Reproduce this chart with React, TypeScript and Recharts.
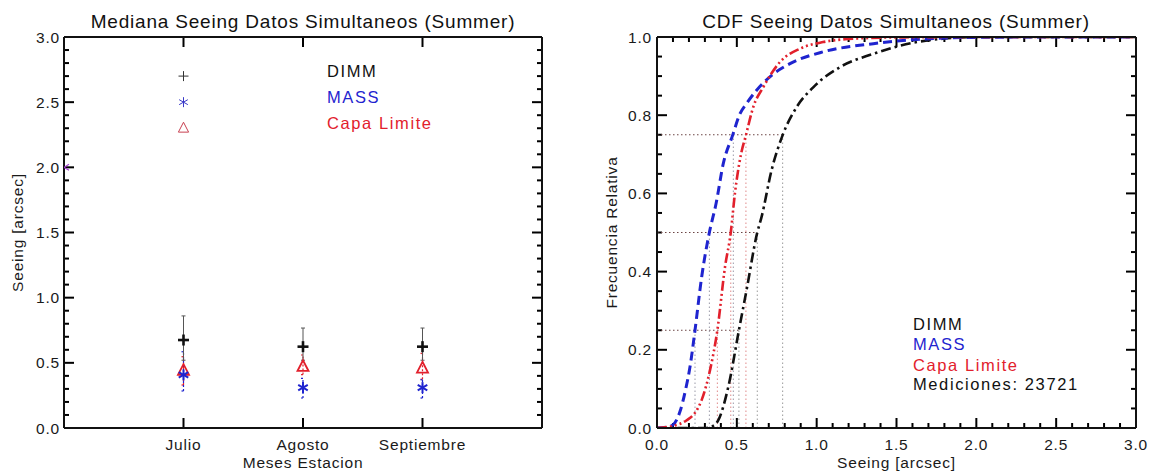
'use client'
import { ComposedChart, Scatter, ErrorBar, Line, XAxis, YAxis, ReferenceLine, Label } from 'recharts'

const FONT = '"Liberation Sans", Arial, Helvetica, sans-serif'
const INK = '#111111'
const BLUE = '#1f24cf'
const RED = '#e2202c'

// --- left panel: monthly medians with quartile bars
const months = ['Julio', 'Agosto', 'Septiembre']
const monthPos = [1, 2, 3]
const dimmMed = [0.675, 0.624, 0.624]
const dimmLo = [0.52, 0.52, 0.52]
const dimmHi = [0.86, 0.767, 0.767]
const massMed = [0.407, 0.31, 0.31]
const massLo = [0.284, 0.23, 0.23]
const massHi = [0.585, 0.38, 0.37]
const capaMed = [0.44, 0.47, 0.458]
const capaLo = [0.33, 0.41, 0.374]
const capaHi = [0.547, 0.56, 0.573]
// the key symbols sit in data space in the original plot
const keyX = [1]
const keyDimm = [2.7]
const keyMass = [2.5]
const keyCapa = [2.3]
const strayX = [0]
const strayY = [2.0]
const seeingLabels = ['0.0', '0.5', '1.0', '1.5', '2.0', '2.5', '3.0']

// --- right panel: cumulative distributions
const dimmSeeing = [0, 0.3, 0.35, 0.384, 0.447, 0.513, 0.561, 0.628, 0.655, 0.718, 0.787, 0.875, 0.98, 1.146, 1.355, 1.6, 1.8, 2.0, 3.0]
const dimmCdf = [0, 0, 0.005, 0.02, 0.106, 0.25, 0.353, 0.5, 0.54, 0.66, 0.749, 0.821, 0.872, 0.923, 0.957, 0.985, 0.996, 1, 1]
const massSeeing = [0, 0.06, 0.1, 0.144, 0.18, 0.207, 0.238, 0.28, 0.328, 0.37, 0.415, 0.474, 0.52, 0.561, 0.624, 0.718, 0.833, 1.04, 1.355, 1.6, 2.0, 2.5, 3.0]
const massCdf = [0, 0.002, 0.008, 0.042, 0.1, 0.157, 0.25, 0.387, 0.5, 0.574, 0.676, 0.749, 0.804, 0.83, 0.864, 0.902, 0.932, 0.962, 0.983, 0.993, 0.999, 1, 1]
const capaSeeing = [0, 0.1, 0.186, 0.24, 0.28, 0.332, 0.378, 0.426, 0.462, 0.488, 0.526, 0.557, 0.603, 0.666, 0.77, 0.895, 1.04, 1.25, 1.5, 2.0, 3.0]
const capaCdf = [0, 0.005, 0.02, 0.04, 0.072, 0.148, 0.25, 0.412, 0.5, 0.6, 0.7, 0.749, 0.821, 0.872, 0.936, 0.97, 0.987, 0.996, 0.999, 1, 1]
const quartLevels = [0.25, 0.5, 0.75]
const dimmQ = [0.513, 0.628, 0.787]
const massQ = [0.238, 0.328, 0.478]
const capaQ = [0.378, 0.462, 0.557]
const cdfYLabels = ['0.0', '0.2', '0.4', '0.6', '0.8', '1.0']
const cdfXLabels = ['0.0', '0.5', '1.0', '1.5', '2.0', '2.5', '3.0']
const mediciones = 23721

const steps = (max: number, step: number) =>
  Array.from({ length: Math.round(max / step) + 1 }, (_, i) => +(i * step).toFixed(3))
const isMajor = (v: number, step: number) => Math.abs(v / step - Math.round(v / step)) < 1e-6

const medRows = (med: number[], lo: number[], hi: number[]) =>
  monthPos.map((x, i) => ({ x, y: med[i], err: [med[i] - lo[i], hi[i] - med[i]] }))
const pts = (xs: number[], ys: number[]) => xs.map((x, i) => ({ x, y: ys[i] }))
const cdfRows = (xs: number[], fs: number[]) => xs.map((v, i) => ({ v, f: fs[i] }))

const tickText = { fill: '#1a1a1a', fontSize: 15.5, fontFamily: FONT, letterSpacing: 0.8 }

function leftLabel(step: number, labels: string[]) {
  return (p: any) => {
    const v = Number(p.payload.value)
    if (!isMajor(v, step)) return <g />
    return <text x={p.x} y={Number(p.y) + 5.5} textAnchor="end" {...tickText}>{labels[Math.round(v / step)]}</text>
  }
}
function bottomLabel(labelOf: (v: number) => string | undefined) {
  return (p: any) => {
    const s = labelOf(Number(p.payload.value))
    if (!s) return <g />
    return <text x={p.x} y={Number(p.y) + 21.5} textAnchor="middle" {...tickText}>{s}</text>
  }
}

// IDL look: ticks on all four sides pointing into the plot, minor ones shorter.
// Drawn as short reference segments; lengths are given in pixels and turned
// into data units with the fixed plot size.
const MINOR = 5
const MAJOR = 10
type Box = { x: [number, number]; y: [number, number]; w: number; h: number }
function frameTicks(box: Box, xTicks: number[], xStep: number, yTicks: number[], yStep: number) {
  const ux = (box.x[1] - box.x[0]) / box.w
  const uy = (box.y[1] - box.y[0]) / box.h
  const st = { stroke: '#000', strokeWidth: 2, ifOverflow: 'visible' as const }
  const out: any[] = []
  yTicks.forEach((v) => {
    const len = (isMajor(v, yStep) ? MAJOR : MINOR) * ux
    out.push(<ReferenceLine key={'yl' + v} segment={[{ x: box.x[0], y: v }, { x: box.x[0] + len, y: v }]} {...st} />)
    out.push(<ReferenceLine key={'yr' + v} segment={[{ x: box.x[1] - len, y: v }, { x: box.x[1], y: v }]} {...st} />)
  })
  xTicks.forEach((v) => {
    const len = (isMajor(v, xStep) ? MAJOR : MINOR) * uy
    out.push(<ReferenceLine key={'xb' + v} segment={[{ x: v, y: box.y[0] }, { x: v, y: box.y[0] + len }]} {...st} />)
    out.push(<ReferenceLine key={'xt' + v} segment={[{ x: v, y: box.y[1] - len }, { x: v, y: box.y[1] }]} {...st} />)
  })
  return out
}

const plus = (color: string, r: number, w: number) => (p: any) => (
  <g stroke={color} strokeWidth={w}>
    <line x1={p.cx - r} x2={p.cx + r} y1={p.cy} y2={p.cy} />
    <line x1={p.cx} x2={p.cx} y1={p.cy - r} y2={p.cy + r} />
  </g>
)
const star = (color: string, r: number, w: number) => (p: any) => {
  const dx = r * 0.87
  const dy = r * 0.5
  return (
    <g stroke={color} strokeWidth={w}>
      <line x1={p.cx} x2={p.cx} y1={p.cy - r} y2={p.cy + r} />
      <line x1={p.cx - dx} x2={p.cx + dx} y1={p.cy - dy} y2={p.cy + dy} />
      <line x1={p.cx - dx} x2={p.cx + dx} y1={p.cy + dy} y2={p.cy - dy} />
    </g>
  )
}
const tri = (color: string, r: number, w: number) => (p: any) => (
  <polygon
    points={`${p.cx},${p.cy - r} ${p.cx - r * 0.85},${p.cy + r * 0.65} ${p.cx + r * 0.85},${p.cy + r * 0.65}`}
    fill="none" stroke={color} strokeWidth={w} />
)
const halfStar = (color: string) => (p: any) => (
  <g stroke={color} strokeWidth={1.2}>
    <line x1={p.cx} y1={p.cy} x2={p.cx + 5} y2={p.cy - 3} />
    <line x1={p.cx} y1={p.cy} x2={p.cx + 5} y2={p.cy + 3} />
  </g>
)

const frame = {
  stroke: INK, axisLine: { stroke: INK, strokeWidth: 2 }, tickLine: false, tickSize: 0,
  allowDataOverflow: true, interval: 0 as const, type: 'number' as const,
}
const axisTitle = { ...tickText, fill: '#1a1a1a' }

function MedianPanel() {
  const yTicks = steps(3, 0.1)
  // 580 x 472 chart: plot is 478 x 391 px
  const box: Box = { x: [0, 4], y: [0, 3], w: 478, h: 391 }
  return (
    <ComposedChart width={580} height={472} margin={{ top: 36, right: 37, bottom: 20, left: 0 }}>
      <XAxis dataKey="x" domain={box.x} ticks={monthPos} {...frame} tickMargin={0} height={24}
        tick={bottomLabel((v) => months[monthPos.indexOf(v)])}>
        <Label value="Meses Estacion" position="bottom" offset={4.5} fill="#1a1a1a" style={axisTitle} />
      </XAxis>
      <XAxis xAxisId="top" orientation="top" domain={box.x} ticks={monthPos} {...frame} tick={false} height={1} />
      <YAxis domain={box.y} ticks={yTicks} {...frame} tickMargin={4} width={64}
        tick={leftLabel(0.5, seeingLabels)}>
        <Label value="Seeing [arcsec]" angle={-90} position="insideLeft" offset={17} fill="#1a1a1a"
          style={{ ...axisTitle, textAnchor: 'middle' }} />
      </YAxis>
      <YAxis yAxisId="right" orientation="right" domain={box.y} ticks={yTicks} {...frame} tick={false} width={1} />

      {frameTicks(box, monthPos, 1, yTicks, 0.5)}

      <Scatter data={pts(strayX, strayY)} dataKey="y" shape={halfStar('#a23bd0')} isAnimationActive={false} />
      <Scatter data={pts(keyX, keyDimm)} dataKey="y" shape={plus('#333', 5, 1)} isAnimationActive={false} />
      <Scatter data={pts(keyX, keyMass)} dataKey="y" shape={star('#3a3ac8', 5, 1)} isAnimationActive={false} />
      <Scatter data={pts(keyX, keyCapa)} dataKey="y" shape={tri('#c84050', 6, 1)} isAnimationActive={false} />

      <Scatter data={medRows(capaMed, capaLo, capaHi)} dataKey="y" shape={tri(RED, 6.5, 1.8)} isAnimationActive={false}>
        <ErrorBar dataKey="err" direction="y" width={2} stroke={RED} strokeWidth={1.2} strokeDasharray="2 2" />
      </Scatter>
      <Scatter data={medRows(massMed, massLo, massHi)} dataKey="y" shape={star(BLUE, 5.5, 2)} isAnimationActive={false}>
        <ErrorBar dataKey="err" direction="y" width={2} stroke={BLUE} strokeWidth={1.2} strokeDasharray="2 2" />
      </Scatter>
      <Scatter data={medRows(dimmMed, dimmLo, dimmHi)} dataKey="y" shape={plus(INK, 5.5, 2.6)} isAnimationActive={false}>
        <ErrorBar dataKey="err" direction="y" width={2} stroke="#555" strokeWidth={1} />
      </Scatter>
    </ComposedChart>
  )
}

function CdfPanel() {
  const yTicks = steps(1, 0.05)
  const xTicks = steps(3, 0.1)
  // 572 x 472 chart: plot is 479 x 391 px
  const box: Box = { x: [0, 3], y: [0, 1], w: 479, h: 391 }
  const guide = { strokeWidth: 1, strokeDasharray: '1.5 2.5', ifOverflow: 'visible' as const }
  return (
    <ComposedChart width={572} height={472} margin={{ top: 36, right: 15, bottom: 20, left: 0 }}>
      <XAxis dataKey="v" domain={box.x} ticks={xTicks} {...frame} tickMargin={0} height={24}
        tick={bottomLabel((v) => (isMajor(v, 0.5) ? cdfXLabels[Math.round(v / 0.5)] : undefined))}>
        <Label value="Seeing [arcsec]" position="bottom" offset={4.5} fill="#1a1a1a" style={axisTitle} />
      </XAxis>
      <XAxis xAxisId="top" orientation="top" domain={box.x} ticks={xTicks} {...frame} tick={false} height={1} />
      <YAxis domain={box.y} ticks={yTicks} {...frame} tickMargin={5} width={77}
        tick={leftLabel(0.2, cdfYLabels)}>
        <Label value="Frecuencia Relativa" angle={-90} position="insideLeft" offset={31} fill="#1a1a1a"
          style={{ ...axisTitle, textAnchor: 'middle' }} />
      </YAxis>
      <YAxis yAxisId="right" orientation="right" domain={box.y} ticks={yTicks} {...frame} tick={false} width={1} />

      {frameTicks(box, xTicks, 0.5, yTicks, 0.2)}

      {quartLevels.map((q, i) => (
        <ReferenceLine key={'h' + i} segment={[{ x: 0, y: q }, { x: dimmQ[i], y: q }]} stroke="#6b4444" {...guide} />
      ))}
      {quartLevels.map((q, i) => (
        <ReferenceLine key={'d' + i} segment={[{ x: dimmQ[i], y: 0 }, { x: dimmQ[i], y: q }]} stroke="#9a9a9a" {...guide} />
      ))}
      {quartLevels.map((q, i) => (
        <ReferenceLine key={'m' + i} segment={[{ x: massQ[i], y: 0 }, { x: massQ[i], y: q }]} stroke="#9a9aa8" {...guide} />
      ))}
      {quartLevels.map((q, i) => (
        <ReferenceLine key={'c' + i} segment={[{ x: capaQ[i], y: 0 }, { x: capaQ[i], y: q }]} stroke="#e08a8a" {...guide} />
      ))}

      <Line data={cdfRows(dimmSeeing, dimmCdf)} dataKey="f" type="monotone" stroke={INK} strokeWidth={2.6}
        strokeDasharray="10 4 2.5 4" dot={false} activeDot={false} isAnimationActive={false} />
      <Line data={cdfRows(massSeeing, massCdf)} dataKey="f" type="monotone" stroke={BLUE} strokeWidth={3}
        strokeDasharray="9 5" dot={false} activeDot={false} isAnimationActive={false} />
      <Line data={cdfRows(capaSeeing, capaCdf)} dataKey="f" type="monotone" stroke={RED} strokeWidth={2.6}
        strokeDasharray="10 3 2 3 2 3 2 3" dot={false} activeDot={false} isAnimationActive={false} />
    </ComposedChart>
  )
}

const keyText = { fontSize: 16.5, fontFamily: FONT, letterSpacing: 1.6 }
const titleText = { fontSize: 19, fontFamily: FONT, letterSpacing: 0.8, fill: '#111' }

export default function App() {
  return (
    <div style={{ position: 'absolute', left: 0, top: 0, width: 1152, height: 472, background: '#fff', overflow: 'hidden' }}>
      <div style={{ position: 'absolute', left: 0, top: 0 }}>
        <MedianPanel />
      </div>
      <div style={{ position: 'absolute', left: 580, top: 0 }}>
        <CdfPanel />
      </div>
      <svg width={1152} height={472} style={{ position: 'absolute', left: 0, top: 0, pointerEvents: 'none' }}>
        <text x={303} y={28} textAnchor="middle" {...titleText}>Mediana Seeing Datos Simultaneos (Summer)</text>
        <text x={896} y={28} textAnchor="middle" {...titleText}>CDF Seeing Datos Simultaneos (Summer)</text>

        <text x={327} y={76.5} fill={INK} {...keyText}>DIMM</text>
        <text x={327} y={102.7} fill={BLUE} {...keyText}>MASS</text>
        <text x={327} y={128.5} fill={RED} {...keyText}>Capa Limite</text>

        <text x={913} y={330} fill={INK} {...keyText}>DIMM</text>
        <text x={913} y={350} fill={BLUE} {...keyText}>MASS</text>
        <text x={913} y={370.5} fill={RED} {...keyText}>Capa Limite</text>
        <text x={913} y={389.5} fill={INK} {...keyText}>Mediciones: {mediciones}</text>
      </svg>
    </div>
  )
}
